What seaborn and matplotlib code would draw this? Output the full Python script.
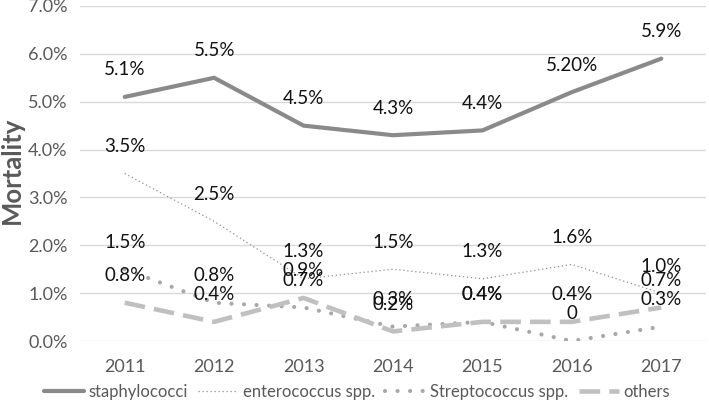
import matplotlib
matplotlib.use("Agg")
import matplotlib.pyplot as plt
import seaborn as sns
import pandas as pd

years = ["2011", "2012", "2013", "2014", "2015", "2016", "2017"]
staphylococci = [5.1, 5.5, 4.5, 4.3, 4.4, 5.2, 5.9]
enterococcus = [3.5, 2.5, 1.3, 1.5, 1.3, 1.6, 1.0]
streptococcus = [1.5, 0.8, 0.7, 0.3, 0.4, 0.0, 0.3]
others = [0.8, 0.4, 0.9, 0.2, 0.4, 0.4, 0.7]

staph_labels = ["5.1%", "5.5%", "4.5%", "4.3%", "4.4%", "5.20%", "5.9%"]
entero_labels = ["3.5%", "2.5%", "1.3%", "1.5%", "1.3%", "1.6%", "1.0%"]
strep_labels = ["1.5%", "0.8%", "0.7%", "0.3%", "0.4%", "0", "0.3%"]
others_labels = ["0.8%", "0.4%", "0.9%", "0.2%", "0.4%", "0.4%", "0.7%"]

series_names = ["staphylococci", "enterococcus spp.", "Streptococcus spp.", "others"]
y_ticks = [0, 1, 2, 3, 4, 5, 6, 7]

sns.set_theme(style="white")
plt.rcParams["font.family"] = ["Lato", "DejaVu Sans"]

fig = plt.figure(figsize=(7.09, 4.05), dpi=100)
ax = fig.add_axes([80 / 709, 1 - 341 / 405, 626 / 709, 335 / 405])

styles = [
    dict(color="#8a8a8a", lw=3.0, linestyle="-", solid_capstyle="round"),
    dict(color="#8f8f8f", lw=0.9, linestyle=(0, (1, 2.2))),
    dict(color="#a8a8a8", lw=3.0, linestyle=(0, (0.01, 3.0)), dash_capstyle="round"),
    dict(color="#c0c0c0", lw=3.3, linestyle=(0, (4.5, 2.0)), dash_capstyle="butt"),
]
values = [staphylococci, enterococcus, streptococcus, others]
labels = [staph_labels, entero_labels, strep_labels, others_labels]

for name, vals, st in zip(series_names, values, styles):
    df = pd.DataFrame({"year": years, "value": vals})
    sns.lineplot(data=df, x="year", y="value", ax=ax, label=name, sort=False, **st)

for vals, labs in zip(values, labels):
    for i, (v, t) in enumerate(zip(vals, labs)):
        ax.annotate(t, (i, v), xytext=(0, 19.5), textcoords="offset points",
                    ha="center", va="center", fontsize=13.5, color="#111111")

ax.set_xlim(-0.5, len(years) - 0.5)
ax.set_ylim(0, 7)
ax.set_yticks(y_ticks)
ax.set_yticklabels([f"{t:.1f}%" for t in y_ticks])
ax.grid(axis="y", color="#d9d9d9", lw=1)
ax.grid(axis="x", visible=False)
for s in ax.spines.values():
    s.set_visible(False)
ax.tick_params(axis="both", length=0, labelsize=13, colors="#595959")
ax.tick_params(axis="x", pad=13)
ax.tick_params(axis="y", pad=9)
ax.set_xlabel("")
ax.set_ylabel("")
fig.text(12 / 709, 1 - 170 / 405, "Mortality", rotation=90, ha="center", va="center",
         fontsize=18.5, fontweight="bold", color="#595959")

ax.get_legend().remove()
handles, leg_labels = ax.get_legend_handles_labels()
leg = fig.legend(handles, leg_labels, loc="center", bbox_to_anchor=(357 / 709, 1 - 392 / 405),
                 ncol=4, frameon=False, fontsize=12, handlelength=2.4, handletextpad=0.3,
                 columnspacing=0.6)
for t in leg.get_texts():
    t.set_color("#595959")

fig.savefig("out.png", dpi=100)
